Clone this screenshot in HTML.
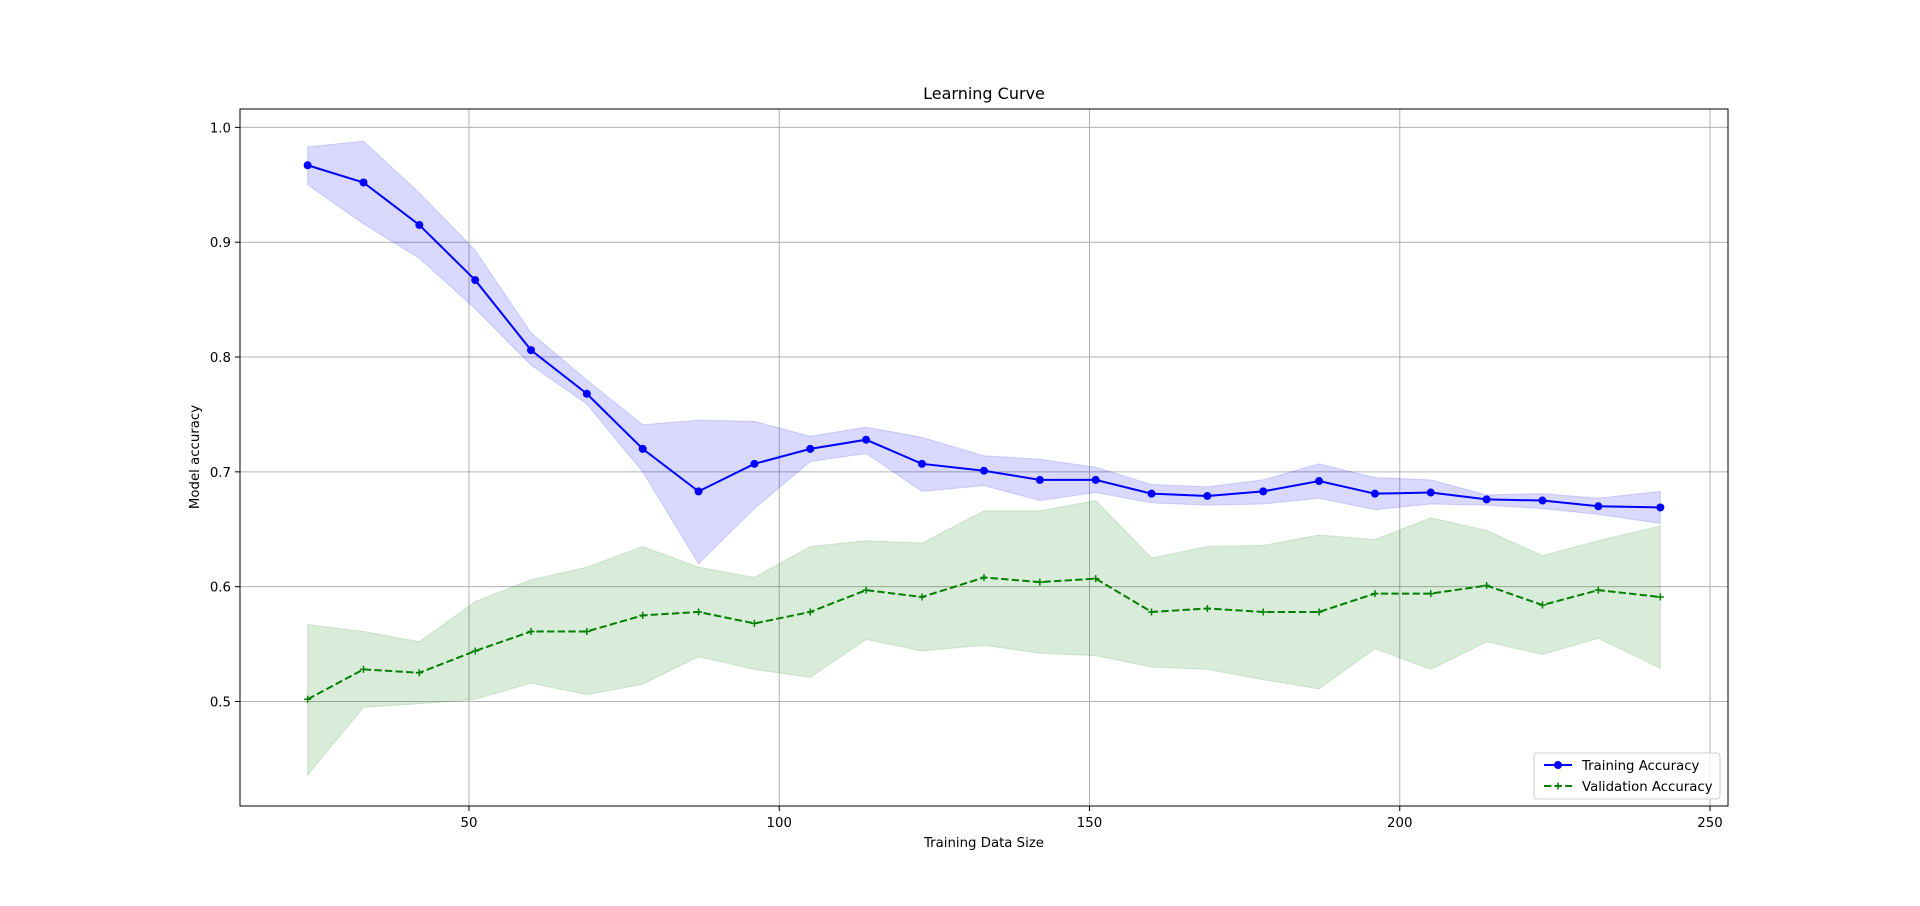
<!DOCTYPE html>
<html><head><meta charset="utf-8"><style>
html,body{margin:0;padding:0;background:#fff;}
svg{display:block;font-family:"DejaVu Sans","Liberation Sans",sans-serif;}
</style></head><body>
<svg id="chart" width="1920" height="906" viewBox="0 0 1920 906"></svg>
<script>
const sizes=[24,33,42,51,60,69,78,87,96,105,114,123,133,142,151,160,169,178,187,196,205,214,223,232,242];
const trainMean=[0.967,0.952,0.915,0.867,0.806,0.768,0.720,0.683,0.707,0.720,0.728,0.707,0.701,0.693,0.693,0.681,0.679,0.683,0.692,0.681,0.682,0.676,0.675,0.670,0.669];
const trainUpper=[0.983,0.988,0.943,0.893,0.821,0.780,0.741,0.745,0.744,0.731,0.739,0.730,0.714,0.711,0.704,0.689,0.687,0.693,0.707,0.695,0.693,0.680,0.681,0.677,0.683];
const trainLower=[0.950,0.916,0.886,0.842,0.793,0.759,0.700,0.620,0.668,0.709,0.716,0.683,0.688,0.675,0.682,0.673,0.671,0.672,0.677,0.667,0.672,0.671,0.668,0.663,0.655];
const valMean=[0.502,0.528,0.525,0.544,0.561,0.561,0.575,0.578,0.568,0.578,0.597,0.591,0.608,0.604,0.607,0.578,0.581,0.578,0.578,0.594,0.594,0.601,0.584,0.597,0.591];
const valUpper=[0.567,0.561,0.552,0.587,0.606,0.617,0.635,0.617,0.608,0.635,0.640,0.638,0.666,0.666,0.675,0.625,0.635,0.636,0.645,0.641,0.660,0.649,0.627,0.640,0.653];
const valLower=[0.436,0.495,0.498,0.502,0.516,0.506,0.515,0.539,0.528,0.521,0.554,0.544,0.549,0.542,0.540,0.530,0.528,0.519,0.511,0.546,0.528,0.552,0.541,0.555,0.529];
const xTicks=[50,100,150,200,250];
const yTicks=[0.5,0.6,0.7,0.8,0.9,1.0];

const L=240,R=1728,T=109,B=806;
const xMin=13.1,xMax=252.9,yMin=0.409,yMax=1.016;
const X=v=>L+(v-xMin)/(xMax-xMin)*(R-L);
const Y=v=>B-(v-yMin)/(yMax-yMin)*(B-T);
const svg=document.getElementById('chart');
const NS='http://www.w3.org/2000/svg';
function mk(tag,attrs,parent){const e=document.createElementNS(NS,tag);for(const k in attrs)e.setAttribute(k,attrs[k]);(parent||svg).appendChild(e);return e;}

// grid
xTicks.forEach(t=>{const g=mk('line',{x1:X(t),x2:X(t),y1:T,y2:B,stroke:'#b0b0b0','stroke-width':1});

});
yTicks.forEach(t=>{const g=mk('line',{x1:L,x2:R,y1:Y(t),y2:Y(t),stroke:'#b0b0b0','stroke-width':1});

});

function band(up,lo,fill,name){
  let d='M'+sizes.map((s,i)=>X(s)+','+Y(up[i])).join('L');
  for(let i=sizes.length-1;i>=0;i--)d+='L'+X(sizes[i])+','+Y(lo[i]);
  const p=mk('path',{d:d+'Z',fill:fill,'fill-opacity':0.15,stroke:fill,'stroke-opacity':0.15});
  
  
}
band(trainUpper,trainLower,'#0000ff','train-band');
band(valUpper,valLower,'#008000','validation-band');

const tl=mk('polyline',{points:sizes.map((s,i)=>X(s)+','+Y(trainMean[i])).join(' '),fill:'none',stroke:'#0000ff','stroke-width':2});


sizes.forEach((s,i)=>{const c=mk('circle',{cx:X(s),cy:Y(trainMean[i]),r:4,fill:'#0000ff'});

});

const vl=mk('polyline',{points:sizes.map((s,i)=>X(s)+','+Y(valMean[i])).join(' '),fill:'none',stroke:'#008000','stroke-width':2,'stroke-dasharray':'7.4,3.2'});


sizes.forEach((s,i)=>{const x=X(s),y=Y(valMean[i]);const c=mk('path',{d:`M${x-3.5},${y}H${x+3.5}M${x},${y-3.5}V${y+3.5}`,stroke:'#008000','stroke-width':1.5});

});

// axes frame
const fr=mk('rect',{x:L,y:T,width:R-L,height:B-T,fill:'none',stroke:'#000','stroke-width':1});



xTicks.forEach(t=>{mk('line',{x1:X(t),x2:X(t),y1:B,y2:B+5,stroke:'#000'});
const tx=mk('text',{x:X(t),y:B+21,'text-anchor':'middle','font-size':13.3});tx.textContent=t;

});
yTicks.forEach(t=>{mk('line',{x1:L-5,x2:L,y1:Y(t),y2:Y(t),stroke:'#000'});
const tx=mk('text',{x:L-9,y:Y(t)+5,'text-anchor':'end','font-size':13.3});tx.textContent=t.toFixed(1);

});
</script>
<svg style="position:absolute;left:0;top:0" width="1920" height="906">
<text x="984" y="99" text-anchor="middle" font-size="16">Learning Curve</text>
<text x="984" y="847" text-anchor="middle" font-size="13.3">Training Data Size</text>
<text transform="translate(199,457) rotate(-90)" text-anchor="middle" font-size="13.3">Model accuracy</text>
<g>
<rect x="1534" y="753" width="186" height="46" rx="3" fill="#fff" fill-opacity="0.8" stroke="#ccc"/>
<line x1="1544" x2="1572" y1="765" y2="765" stroke="#0000ff" stroke-width="2"/>
<circle cx="1558" cy="765" r="4" fill="#0000ff"/>
<text x="1582" y="770" font-size="13.3">Training Accuracy</text>
<line x1="1544" x2="1572" y1="786" y2="786" stroke="#008000" stroke-width="2" stroke-dasharray="7.4,3.2"/>
<path d="M1554.5,786H1561.5M1558,782.5V789.5" stroke="#008000" stroke-width="1.5"/>
<text x="1582" y="791" font-size="13.3">Validation Accuracy</text>
</g>
</svg>
</body></html>
